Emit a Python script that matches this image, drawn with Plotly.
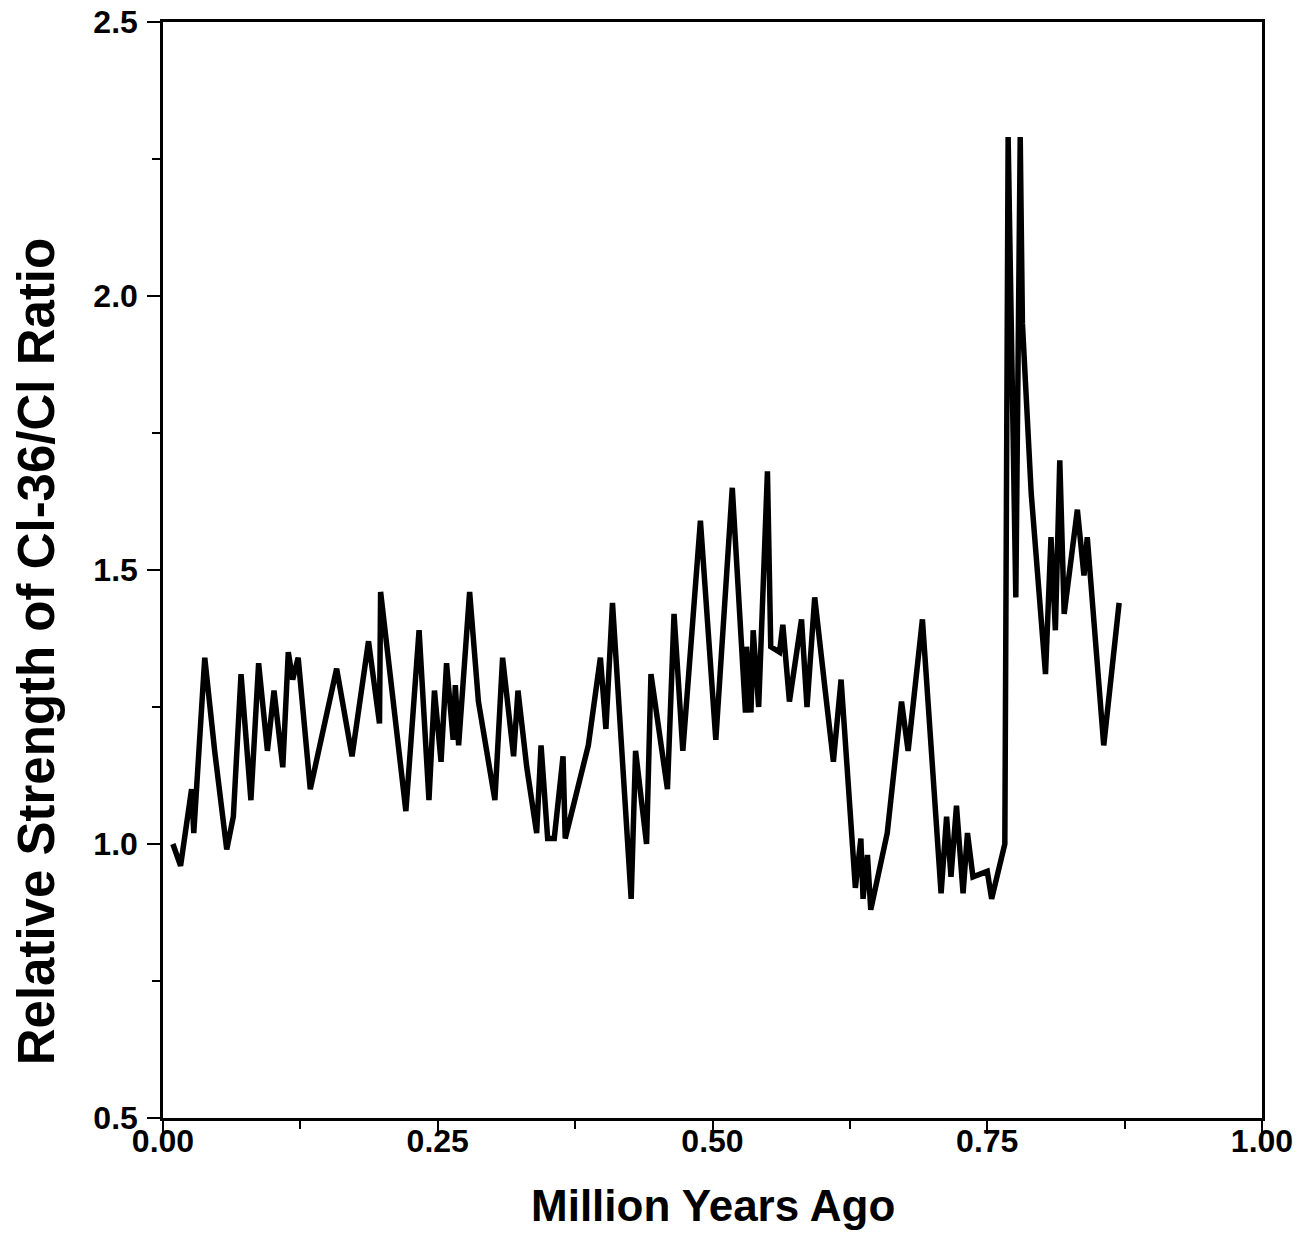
import plotly.graph_objects as go

# Million years ago
years_ma = [
    0.009, 0.016, 0.026, 0.028, 0.038, 0.047, 0.058, 0.064, 0.071, 0.080,
    0.087, 0.095, 0.101, 0.109, 0.114, 0.118, 0.123, 0.134, 0.158, 0.172,
    0.187, 0.197, 0.198, 0.221, 0.233, 0.242, 0.247, 0.253, 0.258, 0.264,
    0.266, 0.269, 0.279, 0.287, 0.302, 0.309, 0.319, 0.323, 0.331, 0.340,
    0.344, 0.350, 0.356, 0.364, 0.366, 0.379, 0.387, 0.398, 0.403, 0.409,
    0.426, 0.430, 0.440, 0.444, 0.459, 0.465, 0.473, 0.489, 0.503, 0.518,
    0.530, 0.531, 0.535, 0.537, 0.542, 0.550, 0.553, 0.561, 0.564, 0.570,
    0.581, 0.586, 0.593, 0.602, 0.610, 0.617, 0.630, 0.635, 0.637, 0.641,
    0.644, 0.659, 0.672, 0.678, 0.691, 0.708, 0.713, 0.717, 0.722, 0.728,
    0.732, 0.737, 0.750, 0.754, 0.766, 0.769, 0.772, 0.776, 0.780, 0.782,
    0.790, 0.803, 0.808, 0.812, 0.816, 0.820, 0.832, 0.838, 0.841, 0.856,
    0.870,
]

# Relative strength of Cl-36/Cl ratio
ratio = [
    1.00, 0.96, 1.10, 1.02, 1.34, 1.17, 0.99, 1.05, 1.31, 1.08,
    1.33, 1.17, 1.28, 1.14, 1.35, 1.30, 1.34, 1.10, 1.32, 1.16,
    1.37, 1.22, 1.46, 1.06, 1.39, 1.08, 1.28, 1.15, 1.33, 1.19,
    1.29, 1.18, 1.46, 1.26, 1.08, 1.34, 1.16, 1.28, 1.14, 1.02,
    1.18, 1.01, 1.01, 1.16, 1.01, 1.11, 1.18, 1.34, 1.21, 1.44,
    0.90, 1.17, 1.00, 1.31, 1.10, 1.42, 1.17, 1.59, 1.19, 1.65,
    1.24, 1.36, 1.24, 1.39, 1.25, 1.68, 1.36, 1.35, 1.40, 1.26,
    1.41, 1.25, 1.45, 1.29, 1.15, 1.30, 0.92, 1.01, 0.90, 0.98,
    0.88, 1.02, 1.26, 1.17, 1.41, 0.91, 1.05, 0.94, 1.07, 0.91,
    1.02, 0.94, 0.95, 0.90, 1.00, 2.29, 1.88, 1.45, 2.29, 1.95,
    1.64, 1.31, 1.56, 1.39, 1.70, 1.42, 1.61, 1.49, 1.56, 1.18,
    1.44,
]

x_tick_vals = [0.0, 0.25, 0.5, 0.75, 1.0]
x_tick_text = ["0.00", "0.25", "0.50", "0.75", "1.00"]
y_tick_vals = [0.5, 1.0, 1.5, 2.0, 2.5]
y_tick_text = ["0.5", "1.0", "1.5", "2.0", "2.5"]

x_title = "Million Years Ago"
y_title = "Relative Strength of Cl-36/Cl Ratio"

FONT = "Liberation Sans, Arial, Helvetica, sans-serif"

fig = go.Figure()
fig.add_trace(go.Scatter(
    x=years_ma, y=ratio, mode="lines",
    line=dict(color="black", width=5.5),
    showlegend=False, hoverinfo="x+y",
))

axis_common = dict(
    showgrid=False, zeroline=False, automargin=False,
    showline=True, linecolor="black", linewidth=2.5,
    mirror=True,
    ticks="outside", ticklen=13, tickwidth=2, tickcolor="black",
    ticklabeloverflow="allow",
    tickfont=dict(family=FONT, size=32, color="black", weight="bold"),
)

fig.update_layout(
    template="none",
    width=1303, height=1255,
    paper_bgcolor="white", plot_bgcolor="white",
    margin=dict(l=163, r=41, t=22, b=137),
    font=dict(family=FONT, color="black"),
    xaxis=dict(
        range=[0, 1], tickmode="array",
        tickvals=x_tick_vals, ticktext=x_tick_text,
        minor=dict(ticks="outside", ticklen=8, tickwidth=2, tickcolor="black", dtick=0.125),
        ticklabelstandoff=-20,
        **axis_common,
    ),
    yaxis=dict(
        range=[0.5, 2.5], tickmode="array",
        tickvals=y_tick_vals, ticktext=y_tick_text,
        minor=dict(ticks="outside", ticklen=8, tickwidth=2, tickcolor="black", dtick=0.25),
        ticklabelstandoff=3,
        **axis_common,
    ),
    annotations=[
        dict(text=x_title, xref="paper", yref="paper", x=0.5, y=-0.0794,
             xanchor="center", yanchor="middle", showarrow=False,
             font=dict(family=FONT, size=44, color="black", weight="bold")),
        dict(text=y_title, xref="paper", yref="paper", x=-0.1155, y=0.425,
             xanchor="center", yanchor="middle", showarrow=False, textangle=-90,
             font=dict(family=FONT, size=51, color="black", weight="bold")),
    ],
)

fig.write_html(
    "out.html",
    config={"displayModeBar": False},
    post_script="document.body.style.margin='0';document.body.style.overflow='hidden';",
)
